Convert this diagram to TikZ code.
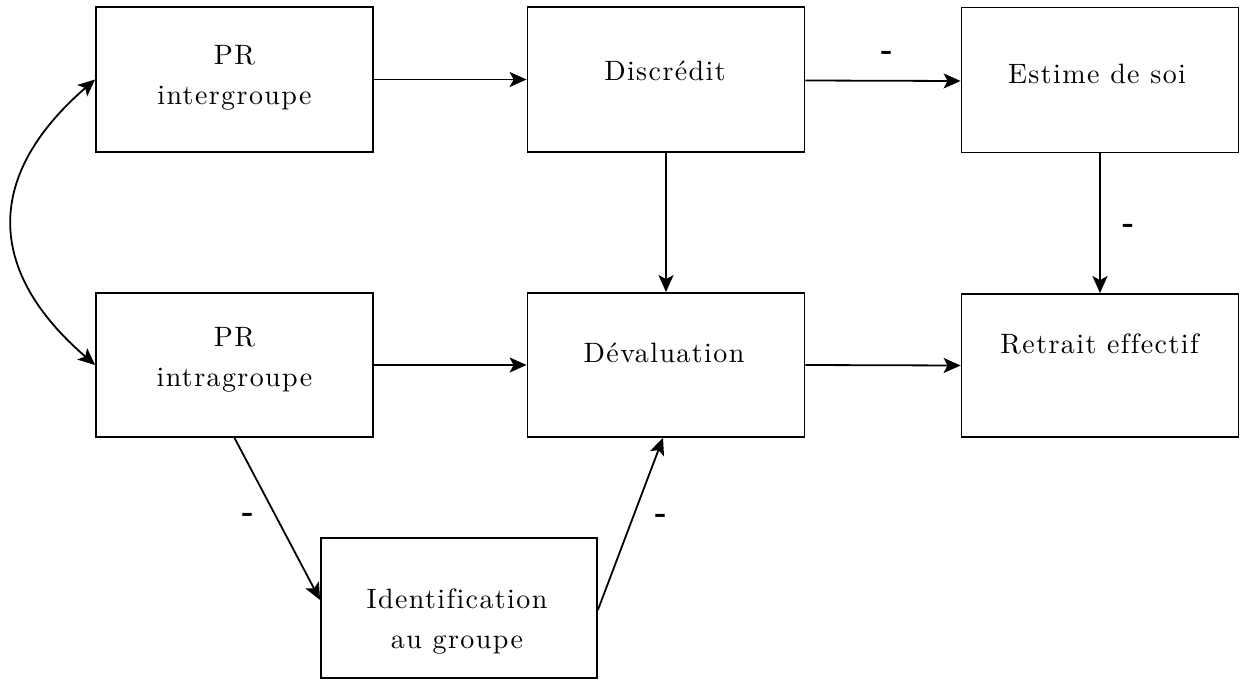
\documentclass[tikz,border=0pt]{standalone}
\usepackage{fontspec}
\setmainfont{lmroman10-regular.otf}[BoldFont=lmroman10-bold.otf,LetterSpace=5,Ligatures=NoCommon]
\newfontfamily\signfont{DejaVu Sans}
\usetikzlibrary{arrows.meta}
\begin{document}
\begin{tikzpicture}[x=1pt,y=-1pt,
  every path/.style={line width=1.8pt},
  box/.style={draw, line width=1.8pt, rectangle, minimum width=277pt, minimum height=145pt, inner sep=0pt},
  txt/.style={align=center, inner sep=0pt, font=\fontsize{28}{40}\selectfont},
  sign/.style={inner sep=0pt, anchor=base, font=\signfont\bfseries\fontsize{24}{30}\selectfont},
  arr/.style={-{Stealth[length=17pt,width=15pt,inset=4pt]}},
  darr/.style={{Stealth[length=17pt,width=15pt,inset=4pt]}-{Stealth[length=17pt,width=15pt,inset=4pt]}}
]
\useasboundingbox (0,0) rectangle (1240,683);
% boxes
\node[box] (inter) at (234.5,79.5) {};
\node[box] (disc) at (666,79.5) {};
\node[box] (estime) at (1100,80) {};
\node[box, minimum height=144pt] (intra) at (234.5,365) {};
\node[box, minimum height=144pt] (deval) at (666,365) {};
\node[box, minimum height=143pt] (retrait) at (1100,365.5) {};
\node[box, minimum width=276pt, minimum height=140pt] (ident) at (459,608) {};
% texts
\node[txt] (interT) at (234.5,78) {PR\\intergroupe};
\node[txt] (discT) at (665,71) {Discrédit};
\node[txt] (estimeT) at (1097,74) {Estime de soi};
\node[txt] (intraT) at (234.5,360) {PR\\intragroupe};
\node[txt] (devalT) at (664,353) {Dévaluation};
\node[txt] (retraitT) at (1099.5,343.5) {Retrait effectif};
\node[txt] (identT) at (457,622) {Identification\\au groupe};
% connectors
\draw[arr] (inter.east) -- (disc.west);
\draw[arr] ([yshift=-1pt]disc.east) -- ([yshift=-1pt]estime.west);
\draw[arr] (disc.south) -- (deval.north);
\draw[arr] (estime.south) -- (retrait.north);
\draw[arr] (intra.east) -- (deval.west);
\draw[arr] (deval.east) -- (retrait.west);
\draw[arr] (intra.south) -- ([yshift=8pt]ident.west);
\draw[arr] ([yshift=-2pt]ident.east) -- ([xshift=-3pt]deval.south);
\draw[darr] (inter.west) .. controls (-15,175) and (-15,270) .. (intra.west);
% signs
\node[sign] (s1) at (886,59) {–};
\node[sign] (s2) at (1127.5,232) {–};
\node[sign] (s3) at (247,521) {–};
\node[sign] (s4) at (660,522) {–};
\end{tikzpicture}
\end{document}
